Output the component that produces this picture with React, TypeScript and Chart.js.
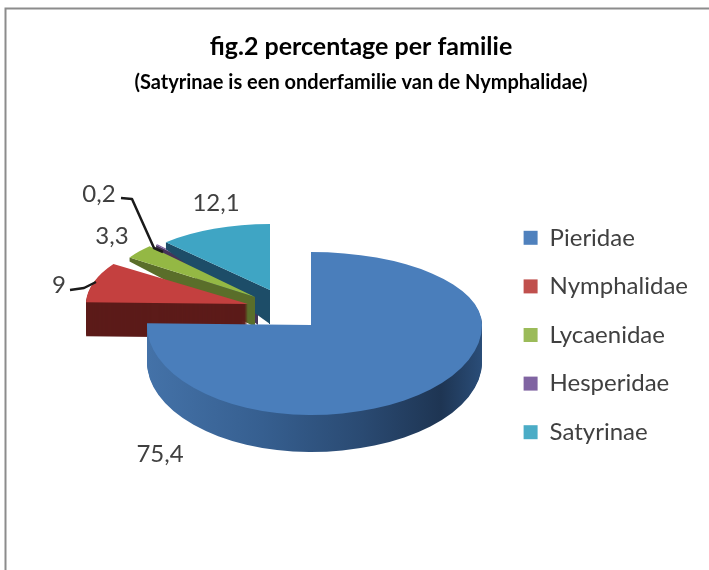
import React, { useEffect, useRef } from "react";
import { Chart, registerables } from "chart.js";

Chart.register(...registerables);

const categories = ["Pieridae", "Nymphalidae", "Lycaenidae", "Hesperidae", "Satyrinae"];
const percentages = [75.4, 9, 3.3, 0.2, 12.1];
const sliceColors = ["#4a7ebb", "#c4403f", "#94b844", "#8064a2", "#3fa5c4"];
const legendColors = ["#4f81bd", "#c0504d", "#9bbb59", "#8064a2", "#4bacc6"];
const titleText = "fig.2 percentage per familie";
const subtitleText = "(Satyrinae is een onderfamilie van de Nymphalidae)";

const FONT = "Lato, Carlito, sans-serif";
const CENTER = { x: 284, y: 310 };
const EXPLODE = { x: 38, y: 21 };
// Horizontal and vertical radii imitate the perspective of the 3D pie.
const faceRadii = [null, { x: 162, y: 72 }, { x: 151, y: 71 }, { x: 146, y: 70 }, { x: 151, y: 66 }];
const wallColors = ["", "#5c1b19", "#5a6e2a", "#453459", "#1d4d68"];
const wallDepthFar = [0, 0, 4, 4, 7];
const wallDepthNear = [37, 34, 30, 30, 34];
const dataLabelPos = [
  { x: 160, y: 454 },
  { x: 59, y: 285 },
  { x: 112, y: 236 },
  { x: 99, y: 194 },
  { x: 216, y: 203 },
];
const drawOrder = [3, 4, 2, 1, 0];

function apexOf(el: any) {
  const mid = (el.startAngle + el.endAngle) / 2;
  return {
    x: Math.round(CENTER.x + EXPLODE.x * Math.cos(mid)),
    y: Math.round(CENTER.y + EXPLODE.y * Math.sin(mid)),
  };
}

function drawFace(ctx: any, el: any, ax: number, ay: number, rx: number, ry: number, clip?: number[]) {
  ctx.save();
  if (clip) {
    ctx.beginPath();
    ctx.rect(clip[0], clip[1], clip[2], clip[3]);
    ctx.clip();
  }
  ctx.translate(ax, ay);
  ctx.scale(rx / el.outerRadius, ry / el.outerRadius);
  ctx.translate(-el.x, -el.y);
  el.draw(ctx);
  ctx.restore();
}

function drawPieridae(ctx: any, el: any, dy: number) {
  const a = apexOf(el);
  const ay = a.y + dy;
  const far = 2000;
  drawFace(ctx, el, a.x, ay, 171, 73, [a.x, ay - far, far, far]);
  drawFace(ctx, el, a.x, ay, 171, 90, [a.x, ay, far, far]);
  drawFace(ctx, el, a.x, ay, 164, 90, [a.x - far, ay, far, far]);
  drawFace(ctx, el, a.x, ay, 164, 73, [a.x - far, ay - far, far, far]);
}

function withColor(el: any, color: any, fn: () => void) {
  const saved = el.options;
  el.options = { ...saved, backgroundColor: color, borderWidth: 0 };
  fn();
  el.options = saved;
}

const pie3d = {
  id: "pie3d",
  beforeDraw(chart: any) {
    const { ctx, width, height } = chart;
    ctx.save();
    ctx.fillStyle = "#ffffff";
    ctx.fillRect(0, 0, width, height);
    ctx.strokeStyle = "#8c8c8c";
    ctx.lineWidth = 2;
    ctx.beginPath();
    ctx.moveTo(5.5, height);
    ctx.lineTo(5.5, 8.5);
    ctx.lineTo(width, 8.5);
    ctx.stroke();
    ctx.restore();
  },
  beforeDatasetDraw(chart: any) {
    const { ctx } = chart;
    const arcs = chart.getDatasetMeta(0).data;
    for (const i of drawOrder) {
      const el = arcs[i];
      const a = apexOf(el);
      if (i === 0) {
        const grad = ctx.createLinearGradient(el.x - el.outerRadius, 0, el.x + el.outerRadius, 0);
        grad.addColorStop(0, "#4472a8");
        grad.addColorStop(0.35, "#365f90");
        grad.addColorStop(0.65, "#2a4a72");
        grad.addColorStop(0.88, "#1e3553");
        grad.addColorStop(1, "#2a4d78");
        withColor(el, grad, () => {
          for (let d = wallDepthNear[0]; d >= 1; d--) drawPieridae(ctx, el, d);
        });
        drawPieridae(ctx, el, 0);
        continue;
      }
      const r = faceRadii[i]!;
      if (i === 1) {
        withColor(el, wallColors[1], () => {
          for (let d = wallDepthNear[1]; d >= 1; d--) drawFace(ctx, el, a.x, a.y + d, r.x, r.y);
        });
      } else {
        const cx = a.x + r.x * Math.cos(el.startAngle);
        const cy = a.y + r.y * Math.sin(el.startAngle);
        ctx.save();
        ctx.fillStyle = wallColors[i];
        ctx.beginPath();
        ctx.moveTo(a.x, a.y);
        ctx.lineTo(cx, cy);
        ctx.lineTo(cx, cy + wallDepthFar[i]);
        ctx.lineTo(a.x, a.y + wallDepthNear[i]);
        ctx.closePath();
        ctx.fill();
        if (i === 4) ctx.fillRect(a.x - 1, a.y, 1, wallDepthNear[i]);
        ctx.restore();
      }
      drawFace(ctx, el, a.x, a.y, r.x, r.y);
    }
    return false;
  },
  afterDatasetsDraw(chart: any) {
    const { ctx } = chart;
    ctx.save();
    ctx.strokeStyle = "#1a1a1a";
    ctx.lineWidth = 2.5;
    ctx.lineJoin = "round";
    ctx.beginPath();
    ctx.moveTo(121, 198);
    ctx.lineTo(132, 199);
    ctx.lineTo(154, 248);
    ctx.lineTo(163, 252);
    ctx.moveTo(70, 290);
    ctx.lineTo(84, 288);
    ctx.lineTo(96, 282);
    ctx.stroke();
    ctx.fillStyle = "#404040";
    ctx.font = `24px ${FONT}`;
    ctx.textAlign = "center";
    ctx.textBaseline = "middle";
    percentages.forEach((v, i) => {
      ctx.fillText(String(v).replace(".", ","), dataLabelPos[i].x, dataLabelPos[i].y);
    });
    ctx.restore();
  },
};

export default function App() {
  const ref = useRef<HTMLCanvasElement | null>(null);
  useEffect(() => {
    const chart = new Chart(ref.current as HTMLCanvasElement, {
      type: "pie",
      data: {
        labels: categories,
        datasets: [{ data: percentages, backgroundColor: sliceColors, borderWidth: 0 }],
      },
      options: {
        animation: false,
        responsive: false,
        layout: { padding: { left: 24, right: 11, top: 0, bottom: -100 } },
        plugins: {
          tooltip: { enabled: false },
          title: {
            display: true,
            text: titleText,
            color: "#000000",
            font: { family: FONT, size: 25, weight: "bold" },
            padding: { top: 32, bottom: 4 },
          },
          subtitle: {
            display: true,
            text: subtitleText,
            color: "#000000",
            font: { family: FONT, size: 20, weight: "bold" },
            padding: { top: 5, bottom: 20 },
          },
          legend: {
            position: "right",
            labels: {
              font: { family: FONT, size: 24 },
              color: "#404040",
              boxWidth: 14,
              boxHeight: 14,
              padding: 24.6,
              generateLabels: () =>
                categories.map((text, i) => ({
                  text,
                  fillStyle: legendColors[i],
                  strokeStyle: legendColors[i],
                  lineWidth: 0,
                  fontColor: "#404040",
                  index: i,
                })),
            },
          },
        },
      },
      plugins: [pie3d],
    } as any);
    return () => chart.destroy();
  }, []);
  return (
    <div style={{ position: "fixed", left: 0, top: 0, width: 709, height: 570 }}>
      <canvas ref={ref} width={709} height={570} style={{ display: "block" }} />
    </div>
  );
}
